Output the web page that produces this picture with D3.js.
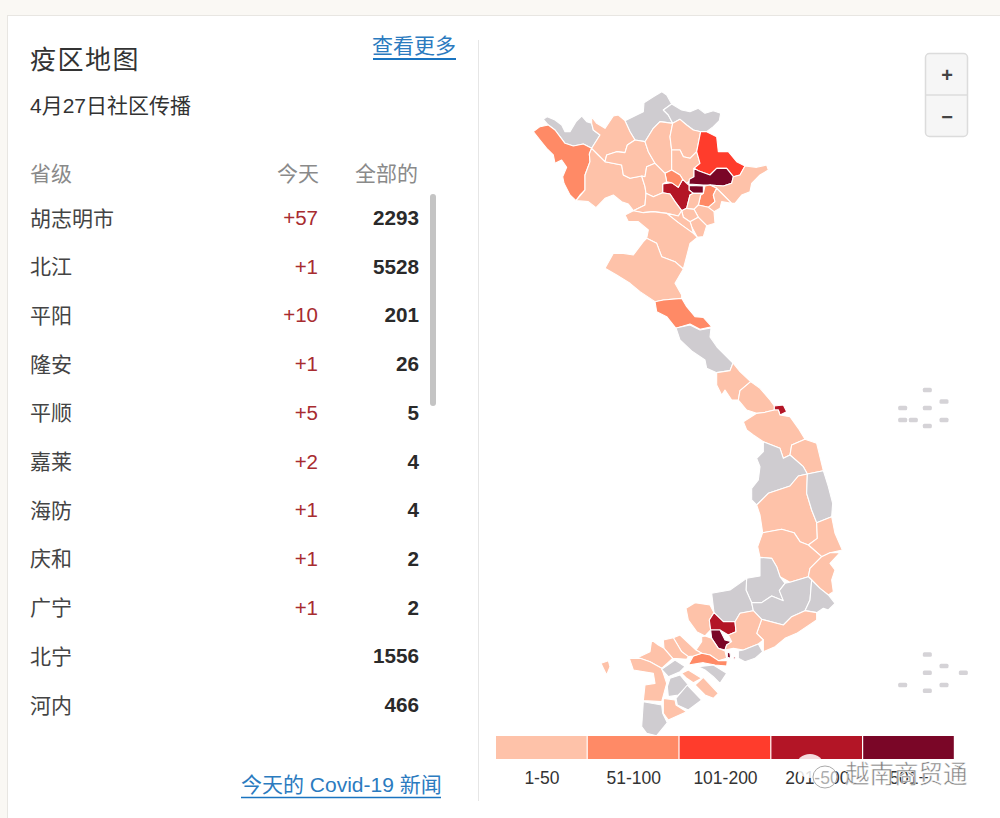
<!DOCTYPE html>
<html lang="zh">
<head>
<meta charset="utf-8">
<script src="https://cdn.jsdelivr.net/npm/d3@7"></script>
<style>
	html, body { margin: 0; padding: 0; background: #fff; }
	svg { display: block; font-family: "Liberation Sans", "Noto Sans CJK SC", sans-serif; }
</style>
</head>
<body>
<svg id="chart" width="1000" height="818"></svg>
<script>
// table
var provinces = ['胡志明市', '北江', '平阳', '隆安', '平顺', '嘉莱', '海防', '庆和', '广宁', '北宁', '河内']
var todayCases = [57, 1, 10, 1, 5, 2, 1, 1, 1, null, null]
var totalCases = [2293, 5528, 201, 26, 5, 4, 4, 2, 2, 1556, 466]
var tableHeads = ['省级', '今天', '全部的']

// legend, band 0 means no cases
var legendLabels = ['1-50', '51-100', '101-200', '201-500', '501+']
var bandColors = ['#cfccd0', '#fec2a9', '#ff8a66', '#ff3c2c', '#b31526', '#7a0627']

// province outlines, one list per map sheet
var northBands = [0, 0, 0, 2, 1, 1, 1, 1, 1, 1, 3, 5, 5, 1, 2, 4, 2, 1, 1, 1, 1, 1, 1, 1, 1, 1, 1, 2]
var northOutlines = [
	[[405,122],[440,105],[460,95],[462,68],[490,50],[515,35],[530,45],[545,72],[520,90],[535,105],[548,130],[510,125],[490,145],[465,185],[435,180],[420,155]],
	[[545,72],[575,90],[600,95],[625,85],[645,100],[670,92],[692,100],[688,122],[670,140],[650,155],[632,155],[610,150],[590,135],[570,118],[548,130],[535,105],[520,90]],
	[[160,118],[172,110],[195,120],[215,135],[225,155],[240,155],[258,125],[275,108],[290,125],[305,130],[310,150],[330,165],[305,205],[280,192],[250,198],[225,190],[210,170],[195,150],[175,135]],
	[[130,155],[150,140],[175,135],[195,150],[210,170],[225,190],[250,198],[280,192],[305,205],[298,222],[300,245],[285,285],[285,330],[270,345],[258,362],[240,345],[222,310],[218,290],[230,262],[215,240],[195,250],[190,225],[170,205],[150,180]],
	[[305,205],[325,225],[345,245],[395,255],[400,285],[420,295],[455,288],[465,320],[468,340],[465,375],[430,392],[415,372],[395,365],[370,345],[345,355],[318,383],[295,365],[258,362],[285,330],[285,285],[300,245],[298,222]],
	[[305,110],[320,130],[345,145],[370,108],[385,105],[405,122],[420,155],[435,180],[412,195],[405,218],[380,215],[350,225],[345,245],[325,225],[305,205],[330,165],[310,150],[305,130]],
	[[350,225],[380,215],[405,218],[412,195],[435,180],[465,185],[475,215],[495,250],[470,260],[465,290],[455,288],[420,295],[400,285],[395,255],[345,245]],
	[[465,185],[490,145],[510,125],[548,130],[540,170],[545,210],[545,270],[525,280],[510,265],[495,250],[475,215]],
	[[548,130],[570,118],[590,135],[610,150],[632,155],[620,215],[600,235],[580,230],[570,210],[545,210],[540,170]],
	[[545,210],[570,210],[580,230],[600,235],[620,215],[630,250],[612,265],[612,290],[590,310],[578,298],[570,285],[545,270]],
	[[632,155],[650,155],[680,170],[685,215],[715,215],[740,245],[765,258],[750,285],[730,290],[710,265],[680,265],[660,285],[625,272],[612,265],[630,250],[620,215]],
	[[612,265],[625,272],[660,285],[680,265],[710,265],[730,290],[725,310],[700,318],[660,315],[640,315],[597,312],[598,298],[612,290]],
	[[597,316],[640,318],[640,340],[610,340],[597,330]],
	[[730,290],[750,285],[765,258],[800,262],[830,255],[835,270],[810,285],[785,310],[780,335],[755,345],[735,370],[725,370],[700,345],[680,325],[660,315],[700,318],[725,310]],
	[[645,318],[660,315],[680,325],[670,345],[675,365],[655,382],[625,375],[632,345],[640,340]],
	[[518,312],[545,308],[565,322],[578,298],[590,310],[597,316],[597,330],[610,340],[600,345],[590,385],[575,392],[555,365],[540,342],[518,338]],
	[[525,280],[545,270],[570,285],[578,298],[565,322],[545,308],[530,305]],
	[[470,260],[495,250],[510,265],[525,280],[530,305],[518,312],[518,338],[490,350],[468,340],[465,320],[455,288],[465,290]],
	[[468,340],[490,350],[518,338],[540,342],[555,365],[575,392],[565,408],[530,400],[490,395],[460,398],[430,392],[465,375]],
	[[600,345],[610,340],[640,340],[632,345],[625,375],[612,388],[590,385]],
	[[670,345],[680,325],[700,345],[725,370],[695,365],[690,385],[672,395],[655,382],[675,365]],
	[[625,375],[655,382],[672,395],[675,430],[650,437],[625,412],[612,388]],
	[[590,385],[612,388],[625,412],[600,425],[580,412],[575,392]],
	[[625,412],[650,437],[640,470],[622,472],[605,440],[600,425]],
	[[530,400],[565,408],[575,392],[580,412],[600,425],[605,440],[610,460],[565,428]],
	[[405,405],[430,392],[460,398],[490,395],[530,400],[565,428],[610,460],[622,472],[600,490],[580,567],[555,545],[515,530],[500,490],[470,475],[475,450],[445,425],[415,425]],
	[[345,565],[370,520],[400,520],[430,525],[460,485],[470,475],[500,490],[515,530],[555,545],[580,567],[555,610],[575,645],[575,655],[520,660],[495,665],[450,635],[420,610],[380,585]],
	[[495,665],[520,660],[575,655],[590,680],[615,710],[640,712],[665,740],[630,748],[600,732],[558,745],[530,710],[500,695]]
]

var centralBands = [0, 1, 1, 4, 1, 1, 0, 1, 0, 1, 1, 1]
var centralOutlines = [
	[[258,-66],[300,-75],[330,-60],[363,-66],[360,-39],[381,-9],[429,39],[420,62],[380,68],[350,55],[345,30],[305,3],[270,-30]],
	[[380,68],[420,62],[429,39],[450,65],[482,95],[450,122],[445,150],[425,150],[405,120],[395,135],[380,105]],
	[[450,122],[482,95],[510,115],[540,150],[553,168],[553,180],[525,187],[500,190],[470,180],[445,150]],
	[[553,168],[580,165],[590,185],[570,195],[565,180],[553,180]],
	[[460,215],[500,190],[525,187],[553,180],[565,180],[570,195],[600,200],[625,235],[645,268],[605,285],[600,315],[580,325],[570,295],[520,275],[490,255],[470,240]],
	[[605,285],[645,268],[680,280],[700,362],[652,372],[640,350],[600,315]],
	[[520,275],[570,295],[580,325],[600,315],[640,350],[652,372],[625,378],[600,408],[535,430],[500,465],[485,450],[485,415],[505,390],[510,350],[500,325],[520,305]],
	[[500,465],[535,430],[600,408],[625,378],[652,372],[650,430],[665,480],[680,518],[682,565],[655,585],[630,575],[612,548],[575,538],[518,548],[510,495]],
	[[652,372],[700,362],[715,410],[728,460],[725,500],[680,518],[665,480],[650,430]],
	[[680,518],[725,500],[735,550],[757,600],[720,608],[695,620],[655,585],[682,565]],
	[[518,548],[575,538],[612,548],[630,575],[655,585],[695,620],[660,655],[655,680],[600,697],[570,680],[560,650],[545,625],[510,622],[503,590]],
	[[695,620],[720,608],[750,608],[720,640],[735,660],[725,690],[730,725],[715,735],[690,715],[665,690],[655,680],[660,655]]
]

var southBands = [0, 0, 0, 0, 1, 1, 4, 5, 1, 0, 1, 2, 1, 1, 1, 1, 0, 0, 1, 1, 0, 0, 1, 0, 5, 4, 1]
var southOutlines = [
	[[510,-38],[545,-35],[560,-10],[570,20],[585,40],[568,62],[580,92],[545,78],[515,98],[485,98],[468,60],[470,25],[510,18]],
	[[365,70],[420,60],[470,25],[468,60],[485,98],[490,122],[450,130],[435,155],[400,155],[372,128]],
	[[485,98],[515,98],[545,78],[580,92],[568,62],[585,40],[600,37],[655,20],[665,30],[660,90],[645,122],[605,140],[580,165],[515,148],[490,122]],
	[[665,30],[690,55],[715,75],[735,100],[715,120],[700,115],[680,128],[645,122],[660,90]],
	[[515,148],[580,165],[605,140],[645,122],[680,128],[680,150],[650,170],[620,190],[585,205],[555,230],[520,245],[520,210],[500,190]],
	[[288,115],[315,98],[360,105],[372,128],[358,150],[362,180],[345,198],[320,185],[295,150]],
	[[372,128],[400,155],[435,155],[438,185],[415,195],[390,180],[362,180],[358,150]],
	[[362,180],[390,180],[405,210],[425,215],[410,225],[405,240],[385,235],[365,205]],
	[[435,155],[450,130],[490,122],[515,148],[500,190],[520,210],[505,222],[460,240],[430,235],[405,240],[410,225],[425,215],[415,195],[438,185]],
	[[445,243],[460,240],[505,222],[518,245],[495,265],[465,275],[445,265]],
	[[335,200],[345,198],[365,205],[385,235],[405,243],[410,265],[385,272],[360,255],[335,250],[318,240],[335,215]],
	[[295,285],[310,258],[335,250],[360,255],[385,272],[412,272],[410,288],[375,285],[340,278]],
	[[250,203],[270,195],[318,240],[335,250],[310,258],[295,260],[275,245]],
	[[220,210],[250,203],[275,245],[295,260],[290,268],[248,265],[222,235]],
	[[118,265],[145,262],[180,245],[185,210],[205,225],[222,235],[248,265],[215,295],[180,275],[150,265]],
	[[118,265],[150,265],[180,275],[215,295],[230,340],[215,395],[160,392],[165,345],[195,340],[190,310],[130,300]],
	[[215,298],[255,270],[285,290],[270,305],[235,320]],
	[[325,290],[370,285],[410,310],[390,340],[370,320],[345,300]],
	[[275,310],[295,300],[335,325],[310,338],[290,325]],
	[[315,345],[340,322],[385,370],[370,385],[345,375]],
	[[240,325],[270,315],[295,345],[265,375],[235,380],[232,350]],
	[[258,385],[292,345],[335,390],[295,420],[262,405]],
	[[220,385],[255,390],[258,405],[290,425],[235,450],[220,430]],
	[[160,395],[215,405],[218,430],[232,458],[200,497],[170,490],[155,470]],
	[[412,245],[420,250],[422,265],[412,262]],
	[[430,255],[438,265],[432,268]],
	[[33,280],[55,272],[60,290],[50,315],[40,295]]
]

// islands
var paracelIslands = [[142,60],[192,94],[68,114],[142,114],[68,150],[100,150],[192,150],[142,168]]
var spratlyIslands = [[142,43],[192,78],[142,98],[250,98],[68,135],[192,135],[142,152]]

var svg = d3.select('#chart')
var color = d3.scaleOrdinal().domain(d3.range(6)).range(bandColors)

// page frame
svg.append('rect').attr('width', 1000).attr('height', 818).attr('fill', '#faf8f4')
svg.append('rect').attr('x', 7.5).attr('y', 15.5).attr('width', 1000).attr('height', 810)
	.attr('fill', '#fff').attr('stroke', '#e8e6e2')
svg.append('line').attr('x1', 478.5).attr('x2', 478.5).attr('y1', 40).attr('y2', 801).attr('stroke', '#e6e6e6')

// heading
svg.append('text').attr('x', 30).attr('y', 69).attr('font-size', 26).attr('letter-spacing', 1.5)
	.attr('fill', '#333').text('疫区地图')
svg.append('text').attr('x', 30).attr('y', 113).attr('font-size', 21).attr('fill', '#333').text('4月27日社区传播')
svg.append('text').attr('x', 372).attr('y', 53).attr('font-size', 21).attr('fill', '#2b7bbf').text('查看更多')
svg.append('line').attr('x1', 373).attr('x2', 456).attr('y1', 59).attr('y2', 59).attr('stroke', '#1a74c0').attr('stroke-width', 2)

// table
var rowY = d3.scalePoint().domain(provinces).range([218, 705])
var headX = [30, 319, 418]
svg.selectAll('.head').data(tableHeads).enter().append('text')
	.attr('class', 'head')
	.attr('x', function(d, i){ return headX[i] })
	.attr('y', 181)
	.attr('font-size', 21)
	.attr('fill', '#8a8a8a')
	.attr('text-anchor', function(d, i){ return i == 0 ? 'start' : 'end' })
	.text(function(d){ return d })

var rows = svg.selectAll('.row').data(provinces).enter().append('g')
	.attr('class', 'row')
	.attr('transform', function(d){ return 'translate(0,' + rowY(d) + ')' })
rows.append('text').attr('x', 30).attr('y', 7.5).attr('font-size', 21).attr('fill', '#444')
	.text(function(d){ return d })
rows.append('text').attr('x', 318).attr('y', 7).attr('font-size', 20.5).attr('fill', '#a82c30').attr('text-anchor', 'end')
	.text(function(d, i){ return todayCases[i] == null ? '' : '+' + todayCases[i] })
rows.append('text').attr('x', 419).attr('y', 7).attr('font-size', 20.7).attr('font-weight', 'bold').attr('fill', '#2a2a2a').attr('text-anchor', 'end')
	.text(function(d, i){ return totalCases[i] })

svg.append('rect').attr('x', 430).attr('y', 194).attr('width', 6).attr('height', 212).attr('rx', 3).attr('fill', '#c4c4c4')

svg.append('text').attr('x', 241).attr('y', 792).attr('font-size', 21).attr('fill', '#2b7bbf').text('今天的 Covid-19 新闻')
svg.append('line').attr('x1', 241).attr('x2', 441).attr('y1', 797.5).attr('y2', 797.5).attr('stroke', '#1a74c0').attr('stroke-width', 1.5)

// map sheets
function drawSheet(outlines, bands, x0, y0, w, h){
	var x = d3.scaleLinear().domain([0, w]).range([x0, x0 + w / 3])
	var y = d3.scaleLinear().domain([0, h]).range([y0, y0 + h / 3])
	var line = d3.line().x(function(d){ return x(d[0]) }).y(function(d){ return y(d[1]) }).curve(d3.curveLinearClosed)
	svg.append('g').selectAll('path').data(outlines).enter().append('path')
		.attr('d', line)
		.attr('fill', function(d, i){ return color(bands[i]) })
		.attr('stroke', '#fff')
		.attr('stroke-width', 1.1)
		.attr('stroke-linejoin', 'round')
}
drawSheet(northOutlines, northBands, 490, 80, 900, 840)
drawSheet(centralOutlines, centralBands, 590, 350, 840, 750)
drawSheet(southOutlines, southBands, 590, 570, 690, 540)

// islands
function drawIslands(points, x0, y0){
	var x = d3.scaleLinear().domain([0, 300]).range([x0, x0 + 100])
	var y = d3.scaleLinear().domain([0, 210]).range([y0, y0 + 70])
	svg.append('g').selectAll('rect').data(points).enter().append('rect')
		.attr('x', function(d){ return x(d[0]) - 4.5 })
		.attr('y', function(d){ return y(d[1]) - 2.2 })
		.attr('width', 9).attr('height', 4.5).attr('rx', 1.5)
		.attr('fill', '#d5d3d7')
}
drawIslands(paracelIslands, 880, 370)
drawIslands(spratlyIslands, 880, 640)

// zoom buttons
svg.append('rect').attr('x', 925.5).attr('y', 53.5).attr('width', 42).attr('height', 83).attr('rx', 4)
	.attr('fill', '#f6f6f6').attr('stroke', '#dcdcdc').attr('stroke-width', 1.5)
svg.append('line').attr('x1', 926).attr('x2', 967).attr('y1', 95).attr('y2', 95).attr('stroke', '#dcdcdc').attr('stroke-width', 1.5)
svg.append('text').attr('x', 947).attr('y', 82).attr('text-anchor', 'middle').attr('font-size', 20).attr('font-weight', 'bold').attr('fill', '#444').text('+')
svg.append('text').attr('x', 947).attr('y', 124).attr('text-anchor', 'middle').attr('font-size', 20).attr('font-weight', 'bold').attr('fill', '#444').text('−')

// legend
var legendX = d3.scaleBand().domain(legendLabels).range([496, 955])
svg.selectAll('.legend').data(legendLabels).enter().append('rect')
	.attr('class', 'legend')
	.attr('x', function(d){ return legendX(d) })
	.attr('y', 736)
	.attr('width', legendX.bandwidth() - 1.2)
	.attr('height', 23)
	.attr('fill', function(d, i){ return color(i + 1) })
svg.selectAll('.legend-label').data(legendLabels).enter().append('text')
	.attr('class', 'legend-label')
	.attr('x', function(d){ return legendX(d) + legendX.bandwidth() / 2 })
	.attr('y', 784)
	.attr('text-anchor', 'middle')
	.attr('font-size', 17.5)
	.attr('fill', '#333')
	.text(function(d){ return d })

// watermark
var mark = svg.append('g')
mark.append('ellipse').attr('cx', 810).attr('cy', 766).attr('rx', 14).attr('ry', 12)
	.attr('fill', '#fff').attr('fill-opacity', 0.85)
mark.append('ellipse').attr('cx', 825).attr('cy', 777).attr('rx', 12).attr('ry', 11)
	.attr('fill', '#fff').attr('fill-opacity', 0.6).attr('stroke', '#aaa')
mark.append('text').attr('x', 845).attr('y', 783).attr('font-size', 24.5).attr('fill', '#808080')
	.attr('stroke', '#fff').attr('stroke-width', 0.5).text('越南商贸通')
</script>
</body>
</html>
